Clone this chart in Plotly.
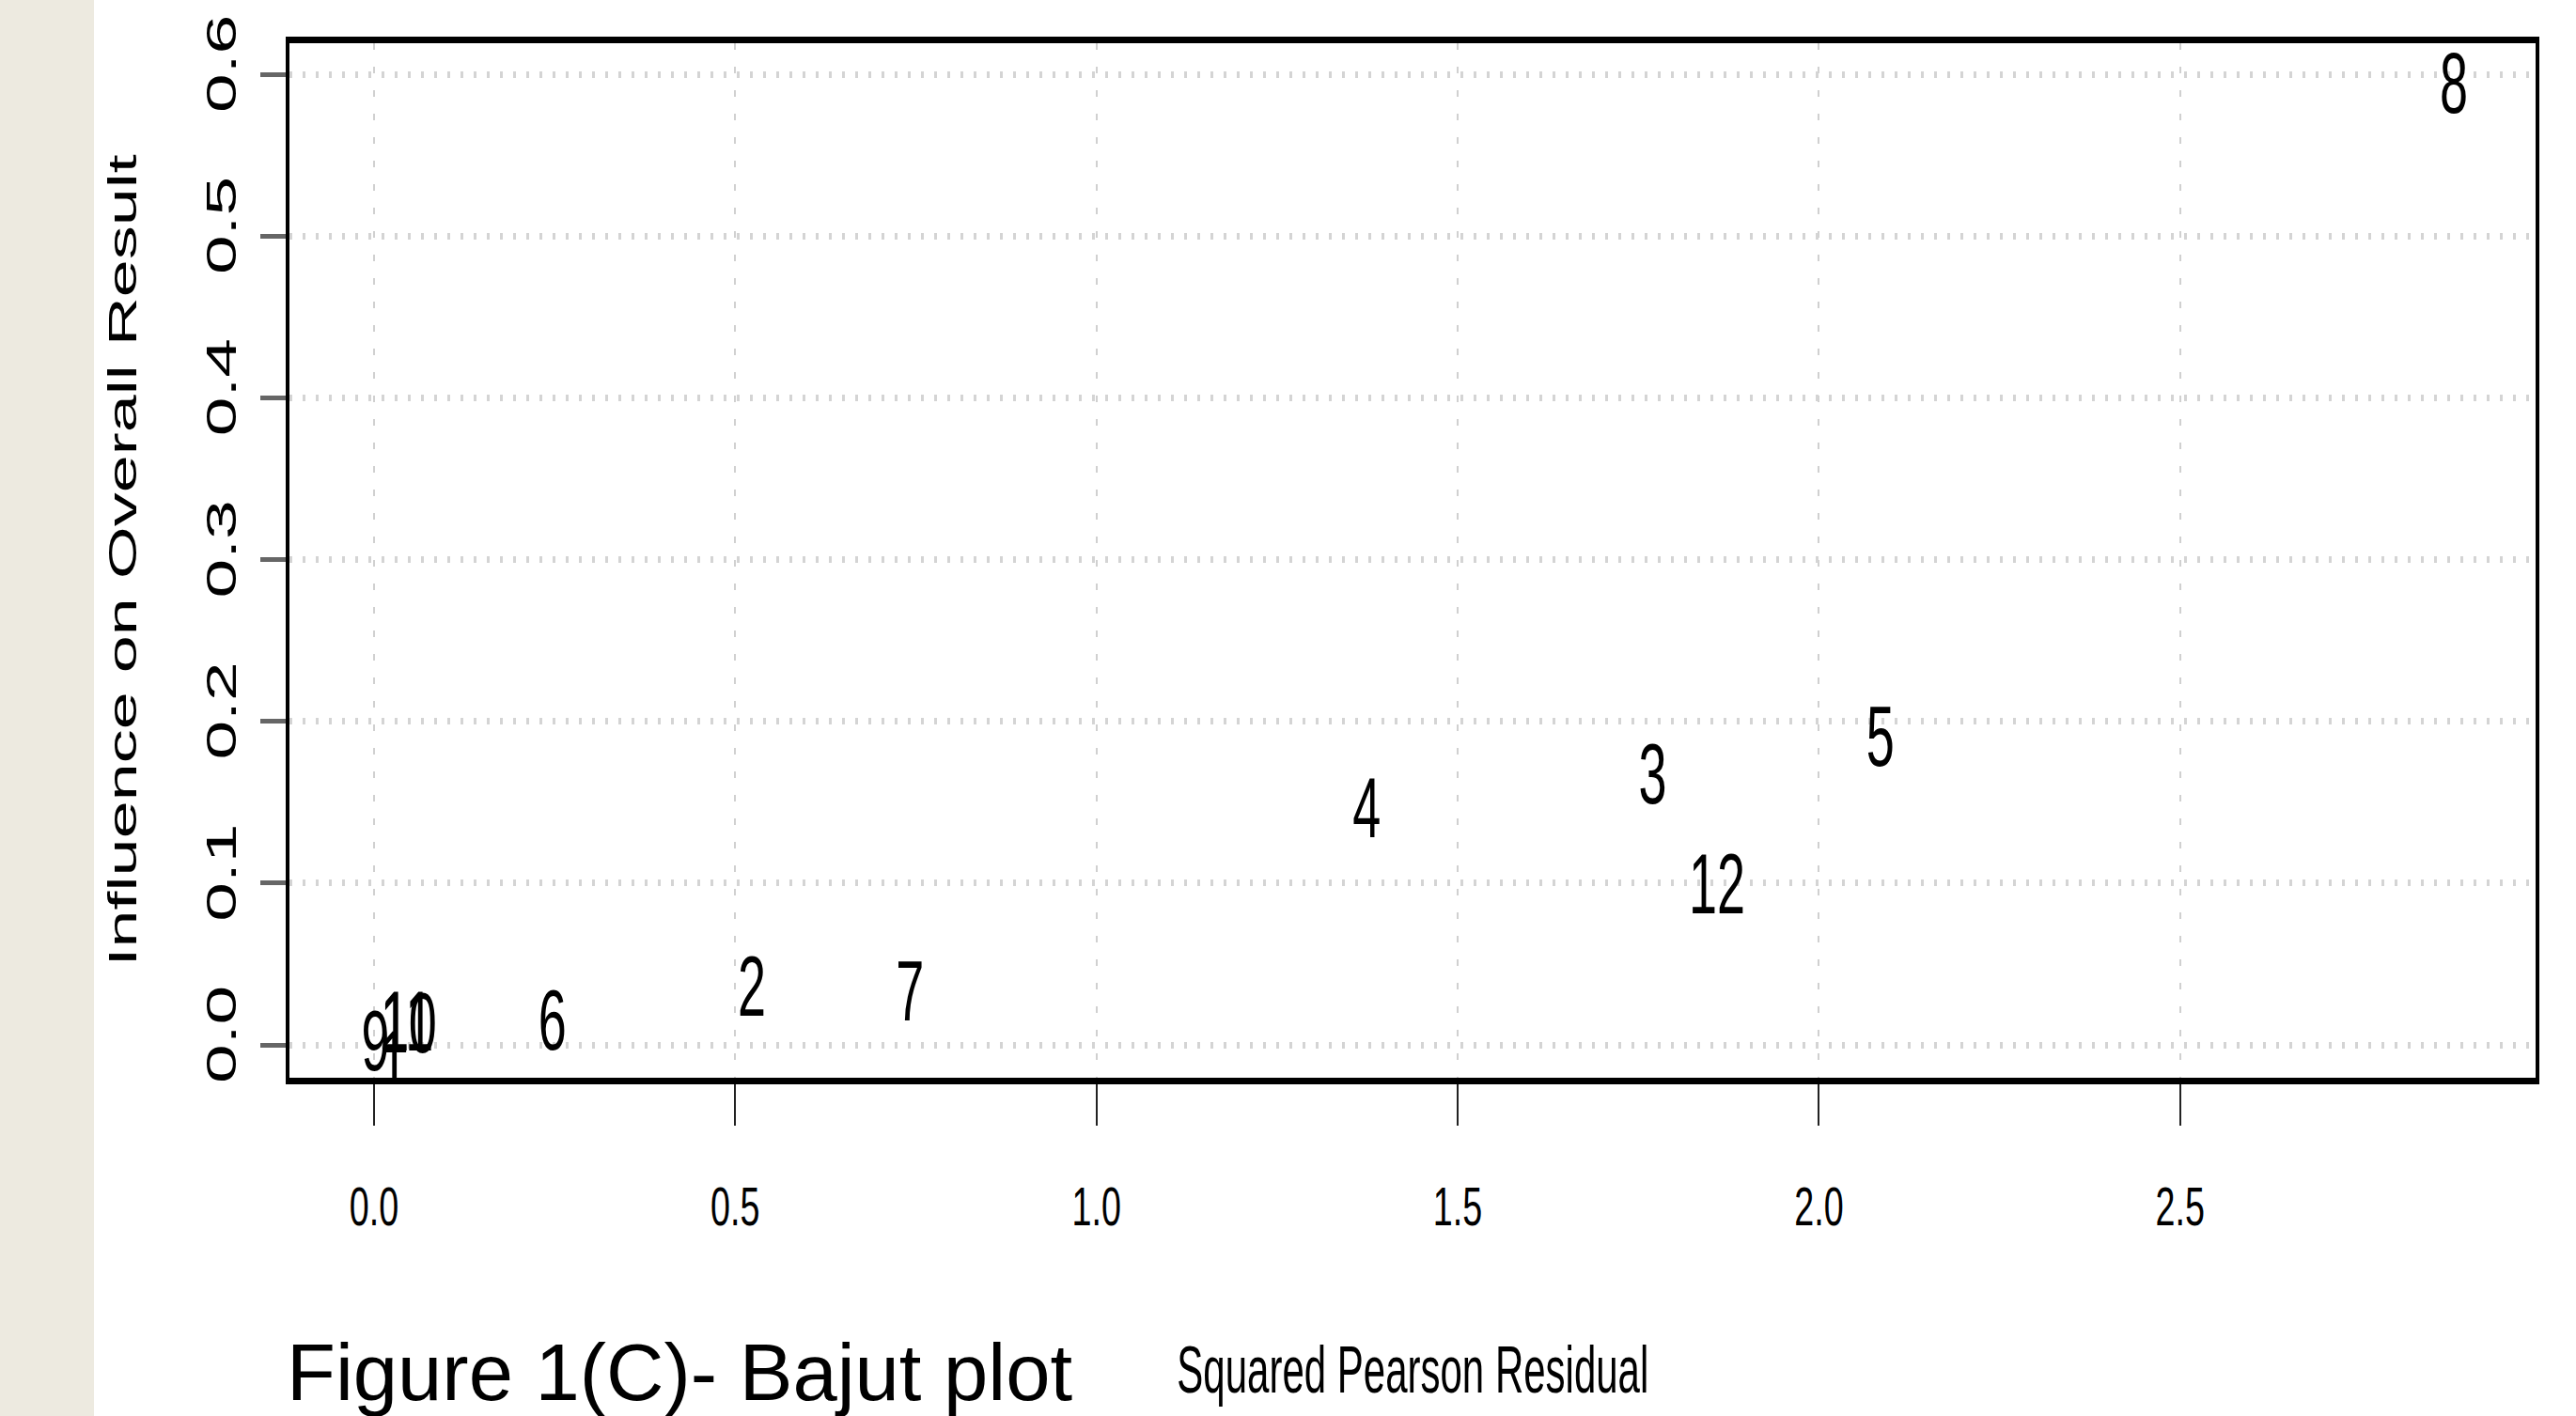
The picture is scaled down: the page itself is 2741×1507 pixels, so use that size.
import plotly.graph_objects as go

# ---- data ----
study_labels = ["1", "2", "3", "4", "5", "6", "7", "8", "9", "10", "11", "12"]
squared_pearson_residual = [0.027, 0.523, 1.770, 1.374, 2.085, 0.247, 0.742, 2.879, 0.002, 0.048, 0.046, 1.859]
influence_overall = [-0.010, 0.036, 0.167, 0.146, 0.190, 0.015, 0.033, 0.594, 0.002, 0.013, 0.014, 0.099]

x_tickvals = [0.0, 0.5, 1.0, 1.5, 2.0, 2.5]
x_ticktext = ["0.0", "0.5", "1.0", "1.5", "2.0", "2.5"]
y_tickvals = [0.0, 0.1, 0.2, 0.3, 0.4, 0.5, 0.6]
y_ticktext = ["0.0", "0.1", "0.2", "0.3", "0.4", "0.5", "0.6"]

x_title = "Squared Pearson Residual"
y_title = "Influence on Overall Result"
caption = "Figure 1(C)- Bajut plot"

SANS = "Liberation Sans, Arial, Helvetica, sans-serif"

W, H = 2741, 1507
L, R, T, B = 308, 2741 - 2698, 46, 1507 - 1147
PW, PH = W - L - R, H - T - B


def px_x(p):
    return (p - L) / PW


def px_y(p):
    return (H - B - p) / PH


fig = go.Figure(
    go.Scatter(
        x=squared_pearson_residual,
        y=influence_overall,
        mode="text",
        text=study_labels,
        textposition="middle center",
        textfont=dict(family=SANS, size=90, color="black"),
        cliponaxis=True,
        hoverinfo="skip",
    )
)

fig.update_layout(
    width=W,
    height=H,
    margin=dict(l=L, r=R, t=T, b=B, pad=0),
    paper_bgcolor="white",
    plot_bgcolor="white",
    showlegend=False,
    xaxis=dict(
        range=[-0.117, 2.992],
        tickmode="array",
        tickvals=x_tickvals,
        ticktext=x_ticktext,
        ticks="outside",
        ticklen=44,
        tickwidth=2,
        tickcolor="#222222",
        showline=True,
        linewidth=7,
        linecolor="black",
        mirror=True,
        showgrid=True,
        gridcolor="#d0d0d0",
        gridwidth=2,
        griddash="7px,18px",
        zeroline=False,
        tickfont=dict(family=SANS, size=58, color="black"),
        ticklabelstandoff=36,
    ),
    yaxis=dict(
        range=[-0.0203, 0.6192],
        tickmode="array",
        tickvals=y_tickvals,
        ticktext=y_ticktext,
        ticks="outside",
        ticklen=27,
        tickwidth=5,
        tickcolor="#666666",
        showline=True,
        linewidth=4,
        linecolor="black",
        mirror=True,
        showgrid=True,
        gridcolor="#d4d4d4",
        gridwidth=7,
        griddash="3px,11px",
        zeroline=False,
        tickangle=-90,
        tickfont=dict(family=SANS, size=75, color="black"),
        ticklabelstandoff=-14,
    ),
    shapes=[
        dict(
            type="rect", xref="paper", yref="paper",
            x0=px_x(-5), x1=px_x(100), y0=px_y(H + 10), y1=px_y(-10),
            fillcolor="#EDEAE0", line=dict(width=0), layer="below",
        )
    ],
    annotations=[
        dict(
            text=y_title, xref="paper", yref="paper",
            x=px_x(130), y=0.5, xanchor="center", yanchor="middle",
            textangle=-90, showarrow=False,
            font=dict(family=SANS, size=72, color="black"),
        ),
        dict(
            text=x_title, xref="paper", yref="paper",
            x=0.5, y=px_y(1458), xanchor="center", yanchor="middle",
            showarrow=False,
            font=dict(family=SANS, size=70, color="black"),
        ),
        dict(
            text=caption, xref="paper", yref="paper",
            x=px_x(303), y=px_y(1460), xanchor="left", yanchor="middle",
            showarrow=False,
            font=dict(family=SANS, size=85, color="black"),
        ),
    ],
)

# The reference R graphic was squeezed horizontally (~0.6) when placed on the slide:
# reproduce that by scaling the R-plot texts about their own centres
# (dy: small baseline correction so glyphs are centred on their points as R does).
post_js = """
document.body.style.margin = '0';
document.body.style.overflow = 'hidden';
var gd = document.getElementById('{plot_id}');
function squash(el, sx, sy, dy) {
  if (!el) return;
  var bb = el.getBBox();
  var cx = bb.x + bb.width / 2, cy = bb.y + bb.height / 2;
  var t = el.getAttribute('transform') || '';
  el.setAttribute('transform', t + ' translate(0,' + (dy || 0) + ') translate(' + cx + ',' + cy + ') scale(' + sx + ',' + sy + ') translate(' + (-cx) + ',' + (-cy) + ')');
}
gd.querySelectorAll('.textpoint text').forEach(function (e) { squash(e, 0.6, 1, 8); });
gd.querySelectorAll('.xtick text').forEach(function (e) { squash(e, 0.65, 1, 0); });
gd.querySelectorAll('.ytick text').forEach(function (e) { squash(e, 1, 0.6, 0); });
var ann = gd.querySelectorAll('.annotation-text');
squash(ann[0], 1, 0.6, 0);
squash(ann[1], 0.6, 1, 0);
"""

fig.write_html("out.html", post_script=post_js, config={"displayModeBar": False})
